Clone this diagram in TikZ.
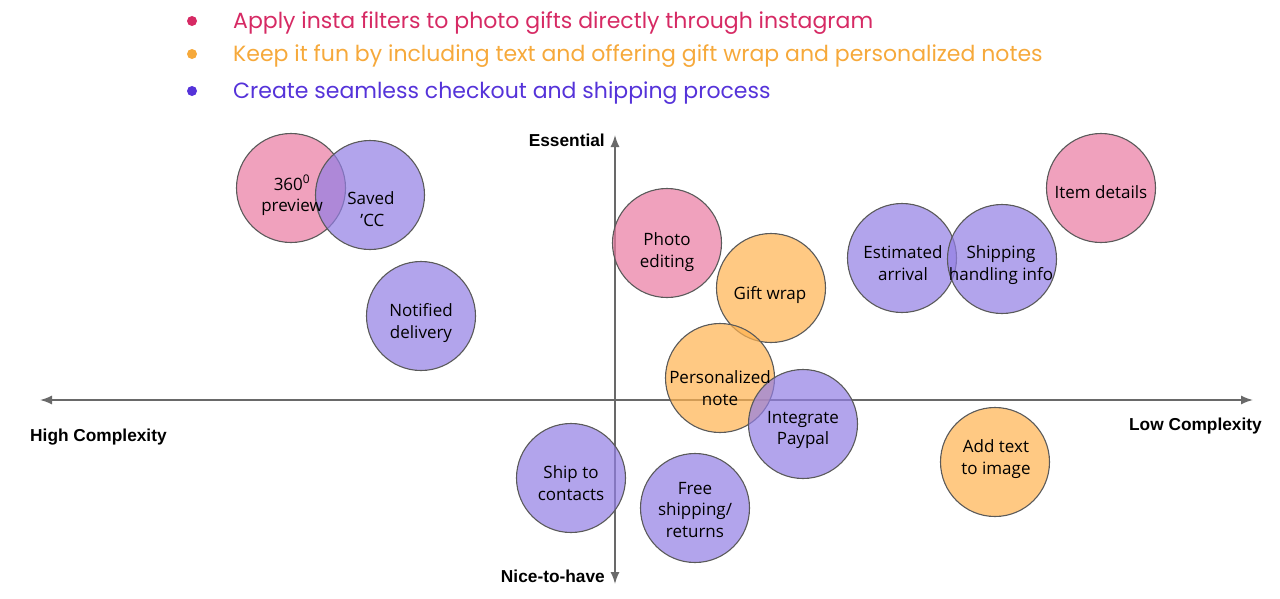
\documentclass[tikz,border=0pt]{standalone}
\usepackage{fontspec}
\setmainfont{Open Sans}
\newfontfamily\axisfont{Liberation Sans}
\newfontfamily\legfont{Poppins}
\usetikzlibrary{arrows.meta}
\definecolor{pinkfill}{RGB}{234,121,161}
\definecolor{purplefill}{RGB}{146,126,228}
\definecolor{orangefill}{RGB}{255,178,78}
\definecolor{edgegray}{RGB}{90,90,90}
\definecolor{axisgray}{RGB}{105,105,105}
\definecolor{legpink}{RGB}{214,42,100}
\definecolor{legorange}{RGB}{246,169,59}
\definecolor{legpurple}{RGB}{85,51,217}
\begin{document}
\begin{tikzpicture}[x=1pt,y=-1pt,
  bubble/.style={circle, draw=edgegray, line width=1.1pt, minimum size=109pt, inner sep=0pt,
    fill opacity=0.7, draw opacity=1},
  btext/.style={align=center, inner sep=0pt, font=\fontsize{17}{21.5}\selectfont, text=black},
  pinkb/.style={bubble, fill=pinkfill},
  purpleb/.style={bubble, fill=purplefill},
  orangeb/.style={bubble, fill=orangefill},
  axisline/.style={draw=axisgray, line width=1.5pt},
  axislabel/.style={font=\axisfont\bfseries\fontsize{17.3}{20}\selectfont, text=black, inner sep=0pt},
  legend/.style={anchor=west, inner sep=0pt, font=\legfont\fontsize{22}{26}\selectfont},
  dot/.style={circle, minimum size=10pt, inner sep=0pt}
]
\useasboundingbox (0,0) rectangle (1280,598);

% legend
\node[dot, fill=legpink] (b1) at (192,21) {};
\node[dot, fill=legorange] (b2) at (192,54) {};
\node[dot, fill=legpurple] (b3) at (192,91) {};
\node[legend, text=legpink] (l1) at (233,23) {Apply insta filters to photo gifts directly through instagram};
\node[legend, text=legorange] (l2) at (233,56) {Keep it fun by including text and offering gift wrap and personalized notes};
\node[legend, text=legpurple] (l3) at (233,93) {Create seamless checkout and shipping process};

% axes
\coordinate (xl) at (40,400);
\coordinate (xr) at (1253,400);
\coordinate (yt) at (615,135);
\coordinate (yb) at (615,584);
\draw[axisline, {Latex[length=12pt,width=9pt]}-{Latex[length=12pt,width=9pt]}] (xl) -- (xr);
\draw[axisline, {Latex[length=12pt,width=9pt]}-{Latex[length=12pt,width=9pt]}] (yb) -- (yt);

\node[axislabel, anchor=east] (ess) at (605,140) {Essential};
\node[axislabel, anchor=east] (nice) at (605,576) {Nice-to-have};
\node[axislabel, anchor=west] (high) at (30,437) {High Complexity};
\node[axislabel, anchor=east] (low) at (1262,426) {Low Complexity};

% bubbles
\node[pinkb] (p360) at (291,188) {};
\node[purpleb] (cc) at (370,195) {};
\node[purpleb] (notif) at (421,316) {};
\node[pinkb] (photo) at (667,243) {};
\node[orangeb] (gift) at (771,288) {};
\node[orangeb] (pers) at (720,378) {};
\node[purpleb] (paypal) at (803,424) {};
\node[purpleb] (ship) at (571,478) {};
\node[purpleb] (free) at (695,508) {};
\node[purpleb] (est) at (902,258) {};
\node[purpleb] (handl) at (1002,259) {};
\node[pinkb] (item) at (1101,188) {};
\node[orangeb] (addt) at (995,462) {};

% bubble texts
\node[btext] (p360t) at (292,195.5) {360\textsuperscript{0}\\preview};
\node[btext] (cct) at (371,209) {Saved\\\,'CC};
\node[btext] (notift) at (421,323) {Notified\\delivery};
\node[btext] (photot) at (667,252) {Photo\\editing};
\node[btext] (giftt) at (770,295) {Gift wrap};
\node[btext] (perst) at (720,388) {Personalized\\note};
\node[btext] (paypalt) at (803,430) {Integrate\\Paypal};
\node[btext] (shipt) at (571,483) {Ship to\\contacts};
\node[btext] (freet) at (695,510) {Free\\shipping/\\returns};
\node[btext] (estt) at (903,263) {Estimated\\arrival};
\node[btext] (handlt) at (1001,265) {Shipping\\handling info};
\node[btext] (itemt) at (1101,192) {Item details};
\node[btext] (addtt) at (996,459) {Add text\\to image};
\end{tikzpicture}
\end{document}
